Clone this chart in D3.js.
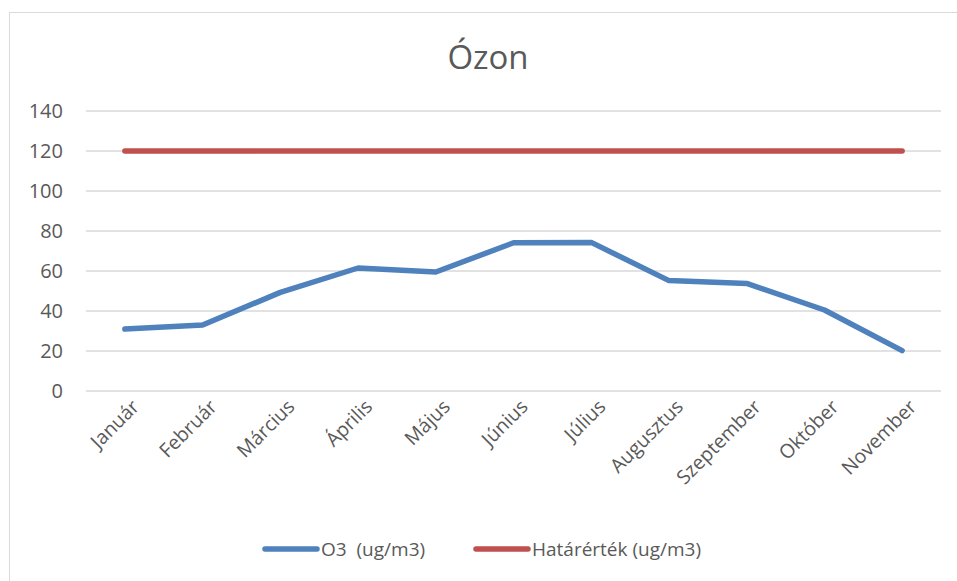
<!DOCTYPE html>
<html>
<head>
<meta charset="utf-8">
<script src="https://cdn.jsdelivr.net/npm/d3@7/dist/d3.min.js"></script>
<style>
  body { margin: 0; background: #fff; }
  text { font-family: "Open Sans", "Liberation Sans", sans-serif; fill: #595959; }
</style>
</head>
<body>
<svg id="chart"></svg>
<script>
var months = ["Január","Február","Március","Április","Május","Június","Július","Augusztus","Szeptember","Október","November"];
var ozone = [31, 33, 49.3, 61.5, 59.5, 74.1, 74.3, 55.2, 53.8, 40.5, 20.2];
var limit = [120, 120, 120, 120, 120, 120, 120, 120, 120, 120, 120];
var yTicks = [0, 20, 40, 60, 80, 100, 120, 140];
var seriesNames = ["O3  (ug/m3)", "Határérték (ug/m3)"];
var seriesColors = ["#4f81bd", "#c0504d"];

var screen = {width: 957, height: 581};
var plot = {left: 86, right: 941, top: 111, bottom: 391};

var svg = d3.select("#chart")
    .attr("width", screen.width)
    .attr("height", screen.height);

// chart border
svg.append("rect")
    .attr("x", 9.5).attr("y", 12.5)
    .attr("width", 960).attr("height", 600)
    .attr("fill", "none")
    .attr("stroke", "#d9d9d9");

svg.append("text")
    .attr("x", 488).attr("y", 69)
    .attr("text-anchor", "middle")
    .style("font-family", "'Liberation Sans Narrow', 'Open Sans', sans-serif")
    .style("font-size", "33px")
    .text("Ózon");

var xScale = d3.scalePoint()
    .domain(months)
    .range([plot.left, plot.right])
    .padding(0.5);

var yScale = d3.scaleLinear()
    .domain([0, 140])
    .range([plot.bottom, plot.top]);

// gridlines
svg.append("g")
    .selectAll("line")
    .data(yTicks)
    .enter()
    .append("line")
    .attr("x1", plot.left).attr("x2", plot.right)
    .attr("y1", function(d){ return yScale(d); })
    .attr("y2", function(d){ return yScale(d); })
    .attr("stroke", "#d9d9d9")
    .attr("stroke-width", 1.3);

// y labels
var yAxis = svg.append("g")
    .attr("transform", "translate(" + (plot.left - 23) + ",0)")
    .call(d3.axisLeft(yScale).tickValues(yTicks).tickSize(0).tickPadding(0));
yAxis.select(".domain").remove();
yAxis.selectAll("text")
    .style("font-size", "20px")
    .attr("fill", "#595959");

// x labels
var xAxis = svg.append("g")
    .attr("transform", "translate(0," + plot.bottom + ")")
    .call(d3.axisBottom(xScale).tickSize(0).tickPadding(0));
xAxis.select(".domain").remove();
xAxis.selectAll("text")
    .style("font-size", "19.5px")
    .attr("fill", "#595959")
    .attr("text-anchor", "end")
    .attr("dy", "0")
    .attr("transform", "translate(15,17) rotate(-45)");

var line = d3.line()
    .x(function(d, i){ return xScale(months[i]); })
    .y(function(d){ return yScale(d); });

[ozone, limit].forEach(function(series, k){
    svg.append("path")
        .datum(series)
        .attr("d", line)
        .attr("fill", "none")
        .attr("stroke", seriesColors[k])
        .attr("stroke-width", 5.5)
        .attr("stroke-linecap", "round")
        .attr("stroke-linejoin", "round");
});

// legend
var legendX = [265, 476];
var legend = svg.append("g")
    .selectAll("g")
    .data(seriesNames)
    .enter()
    .append("g")
    .attr("transform", function(d, i){ return "translate(" + legendX[i] + ",549)"; });
legend.append("line")
    .attr("x1", 0).attr("x2", 52)
    .attr("stroke", function(d, i){ return seriesColors[i]; })
    .attr("stroke-width", 5.5)
    .attr("stroke-linecap", "round");
legend.append("text")
    .attr("x", 56).attr("dy", "0.35em")
    .style("font-size", "19px")
    .style("white-space", "pre")
    .text(function(d){ return d; });
</script>
</body>
</html>
